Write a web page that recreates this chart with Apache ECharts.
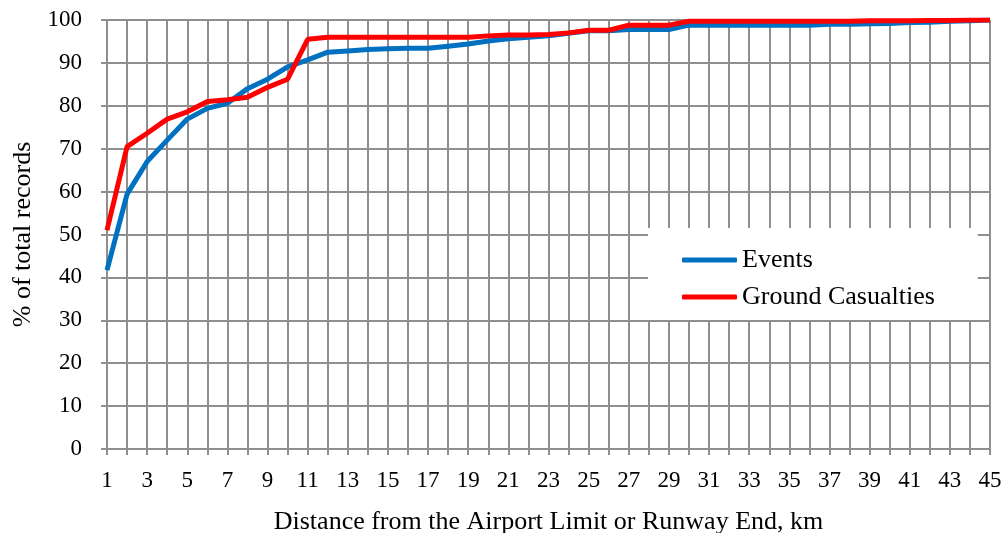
<!DOCTYPE html>
<html>
<head>
<meta charset="utf-8">
<script src="https://cdn.jsdelivr.net/npm/echarts@6/dist/echarts.min.js"></script>
<style>html,body{margin:0;padding:0;background:#fff}#c{width:1005px;height:533px}</style>
</head>
<body>
<div id="c"></div>
<script>
const categories = ["1","2","3","4","5","6","7","8","9","10","11","12","13","14","15","16","17","18","19","20","21","22","23","24","25","26","27","28","29","30","31","32","33","34","35","36","37","38","39","40","41","42","43","44","45"];
const events = [41.7,59.4,67,72,76.9,79.4,80.6,84,86.2,89.1,90.7,92.5,92.8,93.1,93.3,93.4,93.4,93.9,94.4,95.1,95.6,96,96.3,96.9,97.5,97.5,97.8,97.8,97.8,98.8,98.8,98.8,98.8,98.8,98.8,98.8,99,99,99.1,99.2,99.4,99.5,99.7,99.8,100];
const casualties = [51,70.5,73.6,76.9,78.6,81,81.4,82,84.3,86.2,95.5,96,96,96,96,96,96,96,96,96.3,96.5,96.5,96.6,97,97.6,97.6,98.8,98.8,98.8,99.7,99.7,99.7,99.7,99.7,99.7,99.7,99.7,99.7,99.8,99.8,99.8,99.9,99.9,100,100];
const seriesNames = ["Events","Ground Casualties"];

const gridColor = '#8f8f8f';
const font = '"Liberation Serif", "Times New Roman", serif';
const chart = echarts.init(document.getElementById('c'), null, {renderer:'canvas'});
chart.setOption({
  animation: false,
  backgroundColor: '#fff',
  grid: {left: 107, right: 15, top: 20, bottom: 84, containLabel: false, outerBoundsMode: 'none'},
  legend: {
    orient: 'vertical', left: 648, top: 228,
    backgroundColor: '#fff',
    padding: [19, 43, 10, 34],
    itemGap: 11,
    itemWidth: 55, itemHeight: 5,
    icon: 'roundRect',
    textStyle: {fontFamily: font, fontSize: 26, color: '#000'},
    data: seriesNames
  },
  xAxis: {
    type: 'category', data: categories, boundaryGap: false,
    name: 'Distance from the Airport Limit or Runway End, km',
    nameLocation: 'middle', nameGap: 60,
    nameTextStyle: {fontFamily: font, fontSize: 26, color: '#000'},
    axisLine: {lineStyle: {color: gridColor, width: 2}},
    axisTick: {show: true, interval: 0, length: 6, lineStyle: {color: gridColor, width: 2}},
    axisLabel: {interval: 1, fontFamily: font, fontSize: 23, color: '#000', margin: 20},
    splitLine: {show: true, interval: 0, lineStyle: {color: gridColor, width: 2}}
  },
  yAxis: {
    type: 'value', min: 0, max: 100, interval: 10,
    name: '% of total records', nameLocation: 'middle', nameGap: 60,
    nameTextStyle: {fontFamily: font, fontSize: 26, color: '#000'},
    axisLine: {show: true, lineStyle: {color: gridColor, width: 2}},
    axisTick: {show: true, length: 6, lineStyle: {color: gridColor, width: 2}},
    axisLabel: {fontFamily: font, fontSize: 23, color: '#000', margin: 25},
    splitLine: {show: true, lineStyle: {color: gridColor, width: 2}}
  },
  series: [
    {name: seriesNames[0], type: 'line', data: events, showSymbol: false, symbol: 'none',
     lineStyle: {color: '#0070C0', width: 5}, itemStyle: {color: '#0070C0'}},
    {name: seriesNames[1], type: 'line', data: casualties, showSymbol: false, symbol: 'none',
     lineStyle: {color: '#FF0000', width: 5}, itemStyle: {color: '#FF0000'}}
  ]
});
</script>
</body>
</html>
